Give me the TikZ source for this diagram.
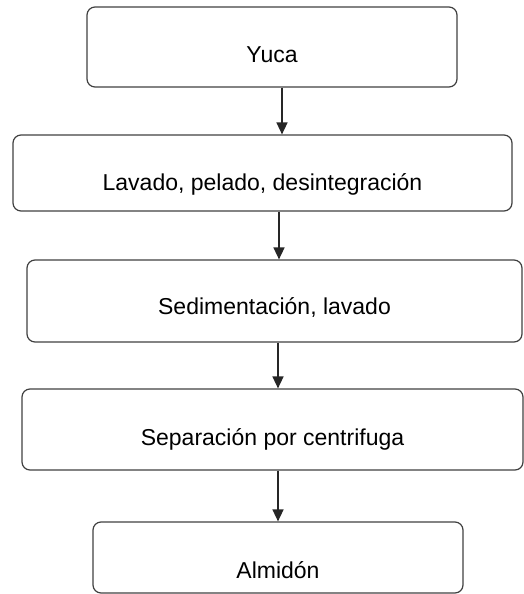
\documentclass[tikz,border=0pt]{standalone}
\usepackage{fontspec}
\setmainfont{Liberation Sans}
\usetikzlibrary{arrows.meta}
\begin{document}
\begin{tikzpicture}[x=1pt,y=-1pt,
  stepbox/.style={draw=black!75, line width=1.2pt, rounded corners=8pt, inner sep=0pt,
    font=\fontsize{23}{27}\selectfont, text depth=0pt},
  arr/.style={draw=black!85, line width=1.5pt, -{Triangle[width=11pt,length=12pt]}}]
\useasboundingbox (0,0) rectangle (524,594);
\node[stepbox, minimum width=370pt, minimum height=80pt, text height=31.5pt] (b1) at (272,47) {Yuca};
\node[stepbox, minimum width=499pt, minimum height=76pt, text height=34.5pt] (b2) at (262.5,173) {Lavado, pelado, desintegración};
\node[stepbox, minimum width=495pt, minimum height=82pt, text height=27.5pt] (b3) at (274.5,301) {Sedimentación, lavado};
\node[stepbox, minimum width=501pt, minimum height=81pt, text height=31.5pt] (b4) at (272.5,429.5) {Separación por centrifuga};
\node[stepbox, minimum width=370pt, minimum height=71pt, text height=42.5pt] (b5) at (278,557.5) {Almidón};
\draw[arr] ([xshift=10pt]b1.south) -- ([xshift=10pt]b1.south |- b2.north);
\draw[arr] ([xshift=16.5pt]b2.south) -- ([xshift=16.5pt]b2.south |- b3.north);
\draw[arr] ([xshift=3.5pt]b3.south) -- ([xshift=3.5pt]b3.south |- b4.north);
\draw[arr] ([xshift=5.5pt]b4.south) -- ([xshift=5.5pt]b4.south |- b5.north);
\end{tikzpicture}
\end{document}
